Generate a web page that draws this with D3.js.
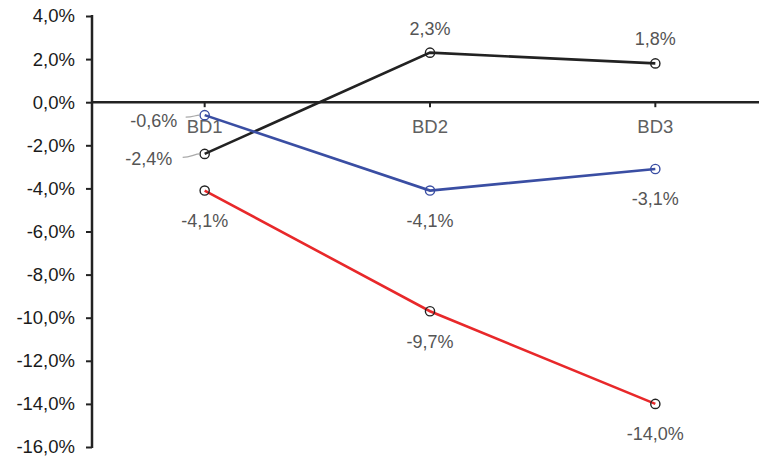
<!DOCTYPE html>
<html>
<head>
<meta charset="utf-8">
<script src="https://cdn.jsdelivr.net/npm/d3@7"></script>
<style>
  body { margin: 0; background: #fff; }
  svg text { font-family: "Liberation Sans", Arial, sans-serif; }
</style>
</head>
<body>
<div id="chart"></div>
<script>
// categories and series values (percent)
const categories = ['BD1', 'BD2', 'BD3'];
const blackValues = [-2.4, 2.3, 1.8];
const blueValues = [-0.6, -4.1, -3.1];
const redValues = [-4.1, -9.7, -14.0];
const yTicks = [4, 2, 0, -2, -4, -6, -8, -10, -12, -14, -16];

// comma decimal, plain hyphen minus
const fmt = v => d3.format('.1f')(v).replace('.', ',').replace('\u2212', '-') + '%';

const config = {
    width: 759,
    height: 458,
    margin: { top: 16, left: 92, right: -9, bottom: 11 }
};
const innerW = config.width - config.margin.left - config.margin.right;
const innerH = config.height - config.margin.top - config.margin.bottom;

const svg = d3.select('#chart').append('svg')
    .attr('width', config.width)
    .attr('height', config.height);

const chart = svg.append('g')
    .attr('transform', `translate(${config.margin.left}, ${config.margin.top})`);

const xScale = d3.scaleBand().domain(categories).range([0, innerW]).padding(0);
const yScale = d3.scaleLinear().domain([-16, 4]).range([innerH, 0]);
const xc = c => xScale(c) + xScale.bandwidth() / 2;

// y axis
const yAxis = d3.axisLeft(yScale).tickValues(yTicks).tickFormat(fmt).tickSize(6).tickPadding(11);
const yG = chart.append('g').call(yAxis);
yG.select('.domain').attr('stroke', '#222').attr('stroke-width', 2.5)
    .attr('d', `M0,${yScale(4) - 1}V${yScale(-16) + 1}`);
yG.selectAll('.tick line').attr('stroke', '#222').attr('stroke-width', 2);
yG.selectAll('.tick text')
    .attr('fill', '#1a1a1a')
    .style('font-size', '18.5px');

// zero line with category ticks
const zeroG = chart.append('g').attr('transform', `translate(0, ${yScale(0)})`);
zeroG.append('line')
    .attr('x1', 0).attr('x2', config.width)
    .attr('stroke', '#222').attr('stroke-width', 2.5);
zeroG.selectAll('.ctick').data(categories).enter().append('line')
    .attr('x1', d => xc(d)).attr('x2', d => xc(d))
    .attr('y1', 0).attr('y2', 5)
    .attr('stroke', '#222').attr('stroke-width', 2);
zeroG.selectAll('.clabel').data(categories).enter().append('text')
    .attr('x', d => xc(d)).attr('y', 31)
    .attr('text-anchor', 'middle')
    .attr('fill', '#606060')
    .style('font-size', '18.5px')
    .text(d => d);

const series = [
    { name: 'black', values: blackValues, color: '#222222', marker: '#222222' },
    { name: 'blue', values: blueValues, color: '#3a4ea3', marker: '#3a4ea3' },
    { name: 'red', values: redValues, color: '#e8282a', marker: '#222222' }
];

// label placement per point: dx, dy offsets relative to the marker, optional leader start
const labelPlace = {
    black: [{ dx: -56, dy: 11.5, leader: [-22, 3.5] }, { dx: 0, dy: -18 }, { dx: 0, dy: -18 }],
    blue: [{ dx: -51, dy: 12, leader: [-19, 2] }, { dx: 0, dy: 36 }, { dx: 0, dy: 36 }],
    red: [{ dx: 0, dy: 36 }, { dx: 0, dy: 36.5 }, { dx: 0, dy: 36 }]
};

const line = d3.line().x(d => xc(d.cat)).y(d => yScale(d.v));

series.forEach(s => {
    const pts = s.values.map((v, i) => ({ cat: categories[i], v }));
    chart.append('path')
        .datum(pts)
        .attr('fill', 'none')
        .attr('stroke', s.color)
        .attr('stroke-width', 2.6)
        .attr('d', line);
});

series.forEach(s => {
    const pts = s.values.map((v, i) => ({ cat: categories[i], v, i }));
    chart.selectAll(null).data(pts).enter().append('circle')
        .attr('cx', d => xc(d.cat))
        .attr('cy', d => yScale(d.v))
        .attr('r', 4.6)
        .attr('fill', 'none')
        .attr('stroke', s.marker)
        .attr('stroke-width', 1.4);

    pts.forEach(d => {
        const p = labelPlace[s.name][d.i];
        const px = xc(d.cat), py = yScale(d.v);
        if (p.leader) {
            const x0 = px + p.leader[0], y0 = py + p.leader[1];
            chart.append('path')
                .attr('d', `M${x0},${y0} C${x0 + 8},${y0} ${px - 10},${py} ${px - 5},${py}`)
                .attr('fill', 'none')
                .attr('stroke', '#aaa')
                .attr('stroke-width', 1.2);
        }
        chart.append('text')
            .attr('x', px + p.dx)
            .attr('y', py + p.dy)
            .attr('text-anchor', 'middle')
            .attr('fill', '#555')
            .style('font-size', '18px')
            .text(fmt(d.v));
    });
});
</script>
</body>
</html>
